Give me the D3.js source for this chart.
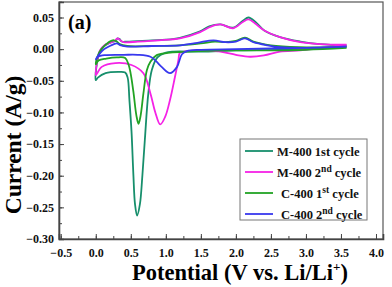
<!DOCTYPE html>
<html>
<head>
<meta charset="utf-8">
<script src="https://cdn.jsdelivr.net/npm/d3@7"></script>
<style>
  html, body { margin: 0; padding: 0; background: #fff; }
  svg text { font-family: "Liberation Serif", "Times New Roman", serif; font-weight: bold; }
</style>
</head>
<body>
<div id="chart-container"></div>
<script>
/**************************************************
 * CV Data  [potential V, current A/g]  (loop order)
 **************************************************/

const m400Cycle1 = [
  [3.58, 0.004], [3.2, 0.001], [2.6, -0.001], [2.0, -0.002], [1.5, -0.004], [1.1, -0.004],
  [0.99, -0.006], [0.88, -0.013], [0.8, -0.033], [0.75, -0.07], [0.70, -0.144], [0.665, -0.20],
  [0.63, -0.245], [0.59, -0.263], [0.56, -0.245], [0.537, -0.199], [0.51, -0.13], [0.48, -0.08],
  [0.455, -0.045], [0.42, -0.037], [0.32, -0.036], [0.14, -0.038], [0.03, -0.045], [0.0, -0.049],
  [0.02, -0.02], [0.06, -0.005], [0.12, 0.005], [0.2, 0.01], [0.28, 0.013], [0.31, 0.017],
  [0.34, 0.016], [0.37, 0.012], [0.45, 0.012], [0.8, 0.014], [1.0, 0.015], [1.2, 0.018],
  [1.49, 0.028], [1.62, 0.036], [1.78, 0.039], [1.96, 0.034], [2.1, 0.045], [2.18, 0.05],
  [2.28, 0.043], [2.4, 0.03], [2.63, 0.019], [2.92, 0.012], [3.2, 0.008], [3.58, 0.006]
];

const m400Cycle2 = [
  [3.58, 0.006], [3.2, 0.002], [2.92, -0.002], [2.63, -0.004], [2.4, -0.01], [2.2, -0.012],
  [2.0, -0.009], [1.78, -0.004], [1.5, -0.002], [1.3, -0.003], [1.2, -0.006], [1.18, -0.017],
  [1.13, -0.044], [1.06, -0.08], [0.99, -0.107], [0.92, -0.119], [0.85, -0.1], [0.78, -0.07],
  [0.68, -0.038], [0.51, -0.025], [0.28, -0.022], [0.085, -0.028], [0.0, -0.041],
  [0.02, -0.02], [0.06, -0.002], [0.12, 0.006], [0.2, 0.01], [0.27, 0.013], [0.31, 0.017],
  [0.35, 0.014], [0.4, 0.011], [0.6, 0.012], [0.9, 0.014], [1.2, 0.017], [1.49, 0.027],
  [1.63, 0.035], [1.78, 0.039], [1.96, 0.033], [2.1, 0.043], [2.18, 0.047], [2.27, 0.041],
  [2.4, 0.03], [2.63, 0.019], [2.92, 0.011], [3.2, 0.008], [3.58, 0.007]
];

const c400Cycle1 = [
  [3.58, 0.002], [3.0, -0.001], [2.5, -0.002], [2.0, -0.002], [1.5, -0.003], [1.03, -0.006],
  [0.87, -0.0095], [0.78, -0.02], [0.73, -0.033], [0.68, -0.07], [0.64, -0.105], [0.61, -0.118],
  [0.58, -0.105], [0.54, -0.07], [0.5, -0.04], [0.47, -0.025], [0.42, -0.014], [0.3, -0.013],
  [0.15, -0.015], [0.04, -0.018], [0.0, -0.024],
  [0.03, -0.01], [0.08, 0.0], [0.15, 0.008], [0.22, 0.013], [0.26, 0.014], [0.3, 0.012],
  [0.34, 0.008], [0.45, 0.005], [0.8, 0.005], [1.2, 0.006], [1.5, 0.009], [1.7, 0.012],
  [1.85, 0.011], [2.0, 0.013], [2.13, 0.018], [2.25, 0.012], [2.5, 0.006], [2.9, 0.003], [3.58, 0.003]
];

const c400Cycle2 = [
  [3.58, 0.004], [3.0, 0.002], [2.5, 0.001], [2.0, 0.0], [1.5, -0.001], [1.3, -0.003],
  [1.23, -0.008], [1.16, -0.028], [1.06, -0.038], [0.94, -0.028], [0.86, -0.019], [0.78, -0.012],
  [0.6, -0.009], [0.4, -0.009], [0.13, -0.0095], [0.03, -0.012], [0.0, -0.016],
  [0.05, -0.008], [0.12, 0.0], [0.2, 0.005], [0.26, 0.008], [0.3, 0.009], [0.36, 0.006],
  [0.45, 0.004], [0.8, 0.005], [1.2, 0.006], [1.45, 0.01], [1.68, 0.014], [1.85, 0.011],
  [2.0, 0.012], [2.13, 0.017], [2.25, 0.011], [2.45, 0.006], [2.63, 0.003], [2.92, 0.002], [3.58, 0.004]
];

const xTicks = [-0.5, 0.0, 0.5, 1.0, 1.5, 2.0, 2.5, 3.0, 3.5, 4.0];
const yTicks = [0.05, 0.00, -0.05, -0.10, -0.15, -0.20, -0.25, -0.30];

/**************************************************
 * Rendering
 **************************************************/

function renderCV() {
  const width = 392, height = 287;
  const left = 59, right = 383, top = 2, bottom = 239;

  const svg = d3.select("#chart-container")
    .append("svg")
    .attr("width", width)
    .attr("height", height);

  const x = d3.scaleLinear().domain([-0.525, 4.1]).range([left, right]);
  const y = d3.scaleLinear().domain([-0.30, 0.0745]).range([bottom, top]);

  const colors = ["#178f6c", "#f522e6", "#22a324", "#3838ee"];
  const allSeries = [m400Cycle1, m400Cycle2, c400Cycle1, c400Cycle2];

  // frame
  svg.append("rect")
    .attr("x", left)
    .attr("y", top)
    .attr("width", right - left)
    .attr("height", bottom - top)
    .attr("fill", "none")
    .attr("stroke", "#555")
    .attr("stroke-width", 1.2);

  // x axis, ticks inward
  const xMinor = d3.range(-0.5, 4.01, 0.25);
  svg.append("g")
    .attr("transform", `translate(0,${bottom})`)
    .call(d3.axisBottom(x).tickValues(xMinor).tickSize(-3).tickFormat(""))
    .call(g => g.select(".domain").remove());
  const xAxis = svg.append("g")
    .attr("transform", `translate(0,${bottom})`)
    .call(d3.axisBottom(x).tickValues(xTicks).tickSize(-5).tickPadding(9).tickFormat(d3.format(".1f")));
  xAxis.select(".domain").attr("stroke", "#444").attr("stroke-width", 1.6);
  xAxis.selectAll("text").attr("font-size", "12px").attr("fill", "#111");

  // y axis, ticks inward
  const yMinor = d3.range(-0.30, 0.0751, 0.025);
  svg.append("g")
    .attr("transform", `translate(${left},0)`)
    .call(d3.axisLeft(y).tickValues(yMinor).tickSize(-3).tickFormat(""))
    .call(g => g.select(".domain").remove());
  const yAxis = svg.append("g")
    .attr("transform", `translate(${left},0)`)
    .call(d3.axisLeft(y).tickValues(yTicks).tickSize(-5).tickPadding(5).tickFormat(d3.format(".2f")));
  yAxis.select(".domain").attr("stroke", "#444").attr("stroke-width", 1.6);
  yAxis.selectAll("text").attr("font-size", "12px").attr("fill", "#111");
  svg.selectAll(".tick line").attr("stroke", "#444");

  // curves
  const line = d3.line()
    .x(d => x(d[0]))
    .y(d => y(d[1]))
    .curve(d3.curveCatmullRom.alpha(0.5));

  allSeries.forEach((s, i) => {
    svg.append("path")
      .datum(s)
      .attr("d", line)
      .attr("fill", "none")
      .attr("stroke", colors[i])
      .attr("stroke-width", 1.8)
      .attr("stroke-linejoin", "round");
  });

  // panel label
  svg.append("text")
    .attr("x", 68)
    .attr("y", 29)
    .attr("font-size", "20px")
    .text("(a)");

  // axis titles
  svg.append("text")
    .attr("x", 240)
    .attr("y", 280)
    .attr("text-anchor", "middle")
    .attr("font-size", "22.5px")
    .html('Potential (V vs. Li/Li<tspan dy="-9" font-size="13px">+</tspan><tspan dy="9">)</tspan>');

  svg.append("text")
    .attr("transform", "translate(21,145) rotate(-90)")
    .attr("text-anchor", "middle")
    .attr("font-size", "23.5px")
    .text("Current (A/g)");

  // legend
  const legX = 240, legY = 139;
  svg.append("rect")
    .attr("x", legX)
    .attr("y", legY)
    .attr("width", 127)
    .attr("height", 81)
    .attr("fill", "#fff")
    .attr("stroke", "#777")
    .attr("stroke-width", 1);

  const legendRows = [
    { main: "M-400 1st cycle", sup: null, rest: null },
    { main: "M-400 2", sup: "nd", rest: " cycle" },
    { main: "C-400 1", sup: "st", rest: " cycle" },
    { main: "C-400 2", sup: "nd", rest: " cycle" }
  ];
  const rowY = [151, 172, 193, 214];

  legendRows.forEach((r, i) => {
    svg.append("line")
      .attr("x1", legX + 5)
      .attr("x2", legX + 33)
      .attr("y1", rowY[i])
      .attr("y2", rowY[i])
      .attr("stroke", colors[i])
      .attr("stroke-width", 1.8);
    const t = svg.append("text")
      .attr("x", legX + (i < 2 ? 37 : 41))
      .attr("y", rowY[i] + 4.5)
      .attr("font-size", "12.5px")
      .attr("fill", "#111");
    t.append("tspan").text(r.main);
    if (r.sup) {
      t.append("tspan").attr("dy", -5).attr("font-size", "9.5px").text(r.sup);
      t.append("tspan").attr("dy", 5).text(r.rest);
    }
  });
}

renderCV();
</script>
</body>
</html>
